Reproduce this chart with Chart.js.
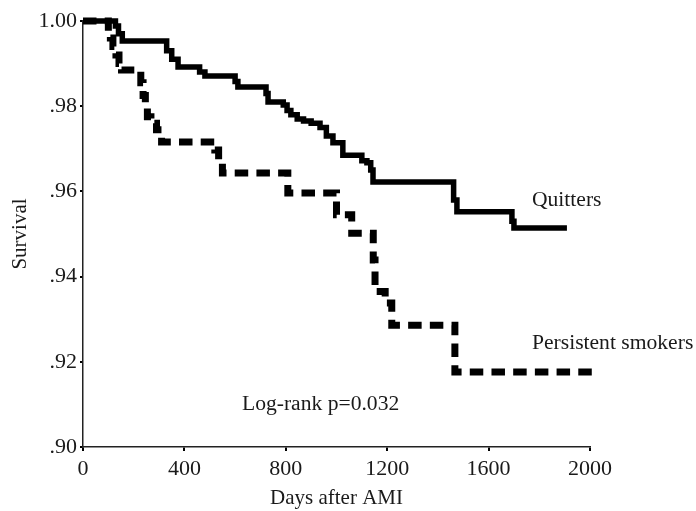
<!DOCTYPE html>
<html>
<head>
<meta charset="utf-8">
<script src="https://cdn.jsdelivr.net/npm/chart.js@4"></script>
<style>
  html,body{margin:0;padding:0;background:#fff;}
  #wrap{width:696px;height:511px;}
</style>
</head>
<body>
<div id="wrap"><canvas id="c" width="696" height="511"></canvas></div>
<script>
// ---- data ----
const quittersDays = [0,120,128,140,155,330,350,375,460,481,600,611,722,730,790,805,820,845,870,900,935,960,986,1025,1100,1120,1135,1144,1462,1475,1692,1700,1909];
const quittersSurv = [1,1,0.9988,0.997,0.9953,0.993,0.991,0.9892,0.988,0.9871,0.9858,0.9845,0.983,0.981,0.9803,0.979,0.978,0.977,0.9765,0.976,0.975,0.973,0.9714,0.9685,0.9672,0.9667,0.965,0.9622,0.958,0.9552,0.953,0.9514,0.9514];

const smokerDays = [0,100,108,118,130,142,152,228,237,246,254,268,290,310,520,535,550,808,1000,1060,1145,1152,1192,1218,1467,2025];
const smokerSurv = [1,0.9975,0.996,0.994,0.992,0.990,0.9885,0.9855,0.9825,0.980,0.9775,0.976,0.9745,0.9716,0.9697,0.967,0.9643,0.9596,0.9545,0.9502,0.9439,0.9365,0.9338,0.9286,0.9176,0.9176];

const xTickValues = [0,400,800,1200,1600,2000];
const xTickLabels = ['0','400','800','1200','1600','2000'];
const yTickValues = [0.90,0.92,0.94,0.96,0.98,1.00];
const yTickLabels = ['.90','.92','.94','.96','.98','1.00'];

const seriesNames = ['Quitters','Persistent smokers'];
const noteText = 'Log-rank p=0.032';
const xTitle = 'Days after AMI';
const yTitle = 'Survival';

// ---- chart ----
const FONT = '"Liberation Serif", "Times New Roman", serif';
const INK = '#1a1a1a';

const toXY = (xs, ys) => xs.map((x, i) => ({x, y: ys[i]}));

const labelPlugin = {
  id: 'labels',
  afterDatasetsDraw(chart) {
    const {ctx, scales:{x, y}} = chart;
    const items = [
      {text: seriesNames[0], d: 1771, s: 0.958},
      {text: seriesNames[1], d: 1771, s: 0.9244},
      {text: noteText, d: 627, s: 0.9099}
    ];
    ctx.save();
    ctx.fillStyle = INK;
    ctx.font = '21.6px ' + FONT;
    ctx.textAlign = 'left';
    ctx.textBaseline = 'middle';
    items.forEach(it => ctx.fillText(it.text, x.getPixelForValue(it.d), y.getPixelForValue(it.s)));
    ctx.restore();
  }
};

new Chart(document.getElementById('c'), {
  type: 'line',
  data: {
    datasets: [
      {
        label: seriesNames[0],
        data: toXY(quittersDays, quittersSurv),
        stepped: 'before',
        borderColor: '#000',
        borderWidth: 5.5,
        pointRadius: 0,
        fill: false,
        clip: false,
        borderCapStyle: 'butt',
        borderJoinStyle: 'miter'
      },
      {
        label: seriesNames[1],
        data: toXY(smokerDays, smokerSurv),
        stepped: 'before',
        borderColor: '#000',
        borderWidth: 7,
        borderDash: [13.5, 8.2],
        pointRadius: 0,
        fill: false,
        clip: false,
        borderCapStyle: 'butt',
        borderJoinStyle: 'miter'
      }
    ]
  },
  options: {
    responsive: false,
    animation: false,
    devicePixelRatio: 1,
    layout: {padding: {top: 21, right: 106, left: 0, bottom: 0}},
    plugins: {legend: {display: false}, tooltip: {enabled: false}},
    scales: {
      x: {
        type: 'linear',
        min: 0, max: 2000,
        afterBuildTicks: s => { s.ticks = xTickValues.map(v => ({value: v})); },
        afterFit: s => { s.height = 64; },
        ticks: {
          color: INK,
          font: {family: FONT, size: 22},
          padding: 5,
          maxRotation: 0,
          autoSkip: false,
          callback: (v, i) => xTickLabels[i]
        },
        grid: {drawOnChartArea: false, drawTicks: true, tickLength: 4, color: '#000', lineWidth: 2},
        border: {display: true, color: '#222', width: 1.5},
        title: {display: true, text: xTitle, color: INK, font: {family: FONT, size: 21}, padding: {top: 0, bottom: 0}}
      },
      y: {
        type: 'linear',
        min: 0.90, max: 1.00,
        afterBuildTicks: s => { s.ticks = yTickValues.map(v => ({value: v})); },
        afterFit: s => { s.width = 83; },
        ticks: {
          color: INK,
          font: {family: FONT, size: 22},
          padding: 3,
          autoSkip: false,
          callback: (v, i) => yTickLabels[i]
        },
        grid: {drawOnChartArea: false, drawTicks: true, tickLength: 3, color: '#000', lineWidth: 2},
        border: {display: true, color: '#222', width: 1.5},
        title: {display: true, text: yTitle, color: INK, font: {family: FONT, size: 21}, padding: {top: 8, bottom: 0}}
      }
    }
  },
  plugins: [labelPlugin]
});
</script>
</body>
</html>
